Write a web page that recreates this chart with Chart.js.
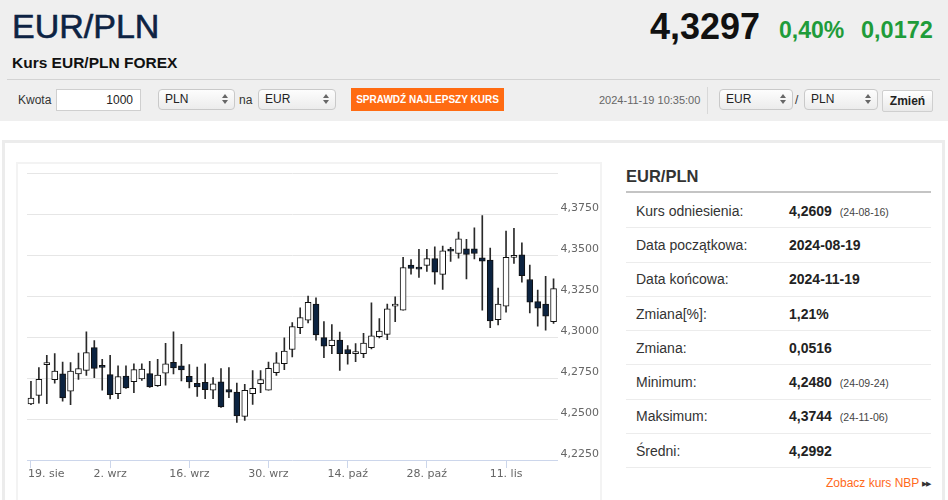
<!DOCTYPE html>
<html lang="pl">
<head>
<meta charset="utf-8">
<title>Kurs EUR/PLN FOREX</title>
<script src="https://cdn.jsdelivr.net/npm/chart.js@4.4.1/dist/chart.umd.min.js"></script>
<style>
  body { margin: 0; width: 948px; height: 500px; overflow: hidden; background: #fff;
         font-family: "Liberation Sans", Arial, sans-serif; color: #333; position: relative; }
  .a { position: absolute; white-space: nowrap; line-height: 1; }
  #top { left: 0; top: 0; width: 948px; height: 121px; background: #efefef; }
  .sel { position: absolute; top: 89px; height: 19px; border: 1px solid #c9c9c9; border-radius: 4px;
         background: linear-gradient(#fdfdfd, #ececec); font-size: 12px; line-height: 19px;
         padding-left: 6px; box-sizing: content-box; color: #222; }
  .sel i { position: absolute; right: 6px; top: 4px; width: 0; height: 0;
           border-left: 3px solid transparent; border-right: 3px solid transparent; border-bottom: 4px solid #666; }
  .sel b { position: absolute; right: 6px; top: 10px; width: 0; height: 0;
           border-left: 3px solid transparent; border-right: 3px solid transparent; border-top: 4px solid #666; }
  #outer { left: 2px; top: 140px; width: 937px; height: 400px; border: 3px solid #ececec; }
  #inner { left: 16px; top: 162px; width: 582px; height: 400px; border: 2px solid #f3f3f3; }
  #rows { position: absolute; left: 626px; top: 194px; width: 305px; }
  .row { height: 33.3px; border-bottom: 1px solid #ececec; display: flex; align-items: center;
         font-size: 14px; line-height: 1; position: relative; }
  .row .l { position: absolute; left: 10px; color: #333; }
  .row .v { position: absolute; left: 163px; font-weight: bold; color: #222; }
  .row .v small { font-weight: normal; font-size: 10.5px; color: #444; margin-left: 8px; }
</style>
</head>
<body>
<div class="a" id="top"></div>
<div class="a" style="left:12px;top:9px;font-size:34px;color:#0d2343;-webkit-text-stroke:0.6px #0d2343;">EUR/PLN</div>
<div class="a" style="left:12px;top:55px;font-size:15.5px;font-weight:bold;color:#111;">Kurs EUR/PLN FOREX</div>
<div class="a" style="left:650px;top:8.5px;font-size:36px;font-weight:bold;color:#111;">4,3297</div>
<div class="a" style="left:779px;top:19px;font-size:23px;font-weight:bold;color:#1f9c3a;">0,40%</div>
<div class="a" style="left:861px;top:19px;font-size:23.5px;font-weight:bold;color:#1f9c3a;">0,0172</div>
<div class="a" style="left:7px;top:79px;width:933px;height:1px;background:#d3d3d3;"></div>

<div class="a" style="left:18px;top:94px;font-size:12px;color:#333;">Kwota</div>
<div class="a" style="left:56px;top:89px;width:76px;height:20px;border:1px solid #cfcfcf;background:#fff;font-size:12px;line-height:20px;text-align:right;padding-right:7px;color:#222;">1000</div>
<div class="sel" style="left:158px;width:69px;">PLN<i></i><b></b></div>
<div class="a" style="left:239px;top:94px;font-size:12px;color:#333;">na</div>
<div class="sel" style="left:258px;width:70px;">EUR<i></i><b></b></div>
<div class="a" style="left:351px;top:88px;width:153px;height:23px;background:#ff6b12;color:#fff;font-size:10px;font-weight:bold;line-height:23px;text-align:center;">SPRAWDŹ NAJLEPSZY KURS</div>
<div class="a" style="left:599px;top:95px;font-size:11px;color:#666;">2024-11-19 10:35:00</div>
<div class="a" style="left:707px;top:87px;width:1px;height:27px;background:#d8d8d8;"></div>
<div class="sel" style="left:719px;width:66px;">EUR<i></i><b></b></div>
<div class="a" style="left:795px;top:94px;font-size:12px;color:#333;">/</div>
<div class="sel" style="left:804px;width:66px;">PLN<i></i><b></b></div>
<div class="a" style="left:882px;top:90px;width:49px;height:20px;border:1px solid #cfcfcf;border-radius:2px;background:linear-gradient(#fff,#e9e9e9);font-size:12px;font-weight:bold;line-height:20px;text-align:center;color:#222;">Zmień</div>

<div class="a" id="outer"></div>
<div class="a" id="inner"></div>
<canvas id="candles" width="584" height="329" style="position:absolute;left:18px;top:164px;"></canvas>

<div class="a" style="left:626px;top:168px;font-size:16.5px;font-weight:bold;color:#333;">EUR/PLN</div>
<div class="a" style="left:626px;top:191px;width:305px;height:2px;background:#c4c4c4;"></div>
<div id="rows">
  <div class="row"><span class="l">Kurs odniesienia:</span><span class="v">4,2609<small>(24-08-16)</small></span></div>
  <div class="row"><span class="l">Data początkowa:</span><span class="v">2024-08-19</span></div>
  <div class="row"><span class="l">Data końcowa:</span><span class="v">2024-11-19</span></div>
  <div class="row"><span class="l">Zmiana[%]:</span><span class="v">1,21%</span></div>
  <div class="row"><span class="l">Zmiana:</span><span class="v">0,0516</span></div>
  <div class="row"><span class="l">Minimum:</span><span class="v">4,2480<small>(24-09-24)</small></span></div>
  <div class="row"><span class="l">Maksimum:</span><span class="v">4,3744<small>(24-11-06)</small></span></div>
  <div class="row"><span class="l">Średni:</span><span class="v">4,2992</span></div>
</div>
<div class="a" style="left:826px;top:477px;font-size:12px;color:#ff6a1a;">Zobacz kurs NBP <span style="font-size:7px;color:#333;letter-spacing:-1px;vertical-align:1px;">▶▶</span></div>

<script>
const dates = [
  '2024-08-19','2024-08-20','2024-08-21','2024-08-22','2024-08-23',
  '2024-08-26','2024-08-27','2024-08-28','2024-08-29','2024-08-30',
  '2024-09-02','2024-09-03','2024-09-04','2024-09-05','2024-09-06',
  '2024-09-09','2024-09-10','2024-09-11','2024-09-12','2024-09-13',
  '2024-09-16','2024-09-17','2024-09-18','2024-09-19','2024-09-20',
  '2024-09-23','2024-09-24','2024-09-25','2024-09-26','2024-09-27',
  '2024-09-30','2024-10-01','2024-10-02','2024-10-03','2024-10-04',
  '2024-10-07','2024-10-08','2024-10-09','2024-10-10','2024-10-11',
  '2024-10-14','2024-10-15','2024-10-16','2024-10-17','2024-10-18',
  '2024-10-21','2024-10-22','2024-10-23','2024-10-24','2024-10-25',
  '2024-10-28','2024-10-29','2024-10-30','2024-10-31','2024-11-01',
  '2024-11-04','2024-11-05','2024-11-06','2024-11-07','2024-11-08',
  '2024-11-11','2024-11-12','2024-11-13','2024-11-14','2024-11-15',
  '2024-11-18','2024-11-19'
];
const opens = [
  4.2592, 4.2645, 4.2833, 4.2741, 4.2776, 4.2670, 4.2776, 4.2798, 4.2937, 4.2818,
  4.2772, 4.2655, 4.2763, 4.2729, 4.2745, 4.2778, 4.2704, 4.2780, 4.2847, 4.2825,
  4.2761, 4.2718, 4.2724, 4.2676, 4.2727, 4.2680, 4.2665, 4.2517, 4.2655, 4.2716,
  4.2676, 4.2784, 4.2839, 4.2925, 4.3059, 4.3104, 4.3202, 4.2998, 4.2949, 4.2982,
  4.2925, 4.2900, 4.2900, 4.2937, 4.3004, 4.3018, 4.3190, 4.3165, 4.3441, 4.3418,
  4.3439, 4.3480, 4.3384, 4.3539, 4.3512, 4.3541, 4.3541, 4.3486, 4.3471, 4.3108,
  4.3190, 4.3488, 4.3504, 4.3353, 4.3218, 4.3202, 4.3096
];
const highs = [
  4.2731, 4.2814, 4.2890, 4.2900, 4.2849, 4.2845, 4.2904, 4.3033, 4.2980, 4.2865,
  4.2890, 4.2825, 4.2825, 4.2837, 4.2837, 4.2853, 4.2865, 4.2963, 4.3033, 4.2957,
  4.2833, 4.2818, 4.2837, 4.2753, 4.2808, 4.2814, 4.2720, 4.2712, 4.2796, 4.2796,
  4.2849, 4.2906, 4.2996, 4.3090, 4.3180, 4.3251, 4.3241, 4.3096, 4.3078, 4.3031,
  4.2949, 4.2961, 4.3024, 4.3210, 4.3114, 4.3202, 4.3247, 4.3488, 4.3475, 4.3537,
  4.3537, 4.3553, 4.3557, 4.3549, 4.3643, 4.3598, 4.3669, 4.3744, 4.3545, 4.3300,
  4.3649, 4.3665, 4.3577, 4.3441, 4.3288, 4.3373, 4.3357
];
const lows = [
  4.2588, 4.2598, 4.2594, 4.2720, 4.2610, 4.2588, 4.2743, 4.2767, 4.2753, 4.2676,
  4.2623, 4.2625, 4.2688, 4.2661, 4.2737, 4.2694, 4.2700, 4.2708, 4.2776, 4.2733,
  4.2690, 4.2639, 4.2625, 4.2625, 4.2572, 4.2631, 4.2480, 4.2492, 4.2590, 4.2661,
  4.2676, 4.2767, 4.2802, 4.2880, 4.3022, 4.3088, 4.2982, 4.2876, 4.2900, 4.2798,
  4.2835, 4.2851, 4.2876, 4.2929, 4.2996, 4.2986, 4.3096, 4.3165, 4.3386, 4.3365,
  4.3402, 4.3324, 4.3292, 4.3463, 4.3483, 4.3357, 4.3479, 4.3165, 4.3059, 4.3075,
  4.3153, 4.3451, 4.3337, 4.3149, 4.3067, 4.3043, 4.3084
];
const closes = [
  4.2629, 4.2743, 4.2835, 4.2794, 4.2629, 4.2794, 4.2808, 4.2906, 4.2810, 4.2816,
  4.2649, 4.2759, 4.2690, 4.2802, 4.2806, 4.2696, 4.2769, 4.2837, 4.2812, 4.2800,
  4.2727, 4.2696, 4.2680, 4.2716, 4.2574, 4.2665, 4.2519, 4.2676, 4.2688, 4.2741,
  4.2810, 4.2843, 4.2916, 4.3065, 4.3120, 4.3214, 4.3014, 4.2945, 4.2982, 4.2900,
  4.2900, 4.2902, 4.2965, 4.3008, 4.3037, 4.3173, 4.3192, 4.3426, 4.3420, 4.3416,
  4.3480, 4.3398, 4.3528, 4.3526, 4.3602, 4.3506, 4.3512, 4.3465, 4.3100, 4.3202,
  4.3488, 4.3490, 4.3377, 4.3214, 4.3177, 4.3129, 4.3297
];
const axisDates = ['2024-08-19','2024-09-02','2024-09-16','2024-09-30','2024-10-14','2024-10-28','2024-11-11'];
const axisLabels = ['19. sie','2. wrz','16. wrz','30. wrz','14. paź','28. paź','11. lis'];

const UP = '#ffffff';
const DOWN = '#0c2340';

// date labels under the axis, first one pinned to the plot edge like the original
const dateLabels = {
  id: 'dateLabels',
  afterDraw(chart) {
    const { ctx, chartArea, scales: { x } } = chart;
    ctx.save();
    ctx.font = '11px "DejaVu Sans"';
    ctx.fillStyle = '#666';
    ctx.textBaseline = 'middle';
    axisDates.forEach((d, i) => {
      const px = x.getPixelForValue(dates.indexOf(d));
      ctx.textAlign = i === 0 ? 'left' : 'center';
      ctx.fillText(axisLabels[i], i === 0 ? chartArea.left + 1 : px, chartArea.bottom + 14);
    });
    ctx.restore();
  }
};

new Chart(document.getElementById('candles').getContext('2d'), {
  type: 'bar',
  data: {
    labels: dates,
    datasets: [{
      label: 'body',
      data: opens.map((o, i) => [o, closes[i]]),
      backgroundColor: closes.map((c, i) => c >= opens[i] ? UP : DOWN),
      borderColor: '#111',
      borderWidth: 1,
      borderSkipped: false,
      barThickness: 6,
      minBarLength: 2,
      grouped: false,
      order: 1
    }, {
      label: 'wick',
      data: lows.map((l, i) => [l, highs[i]]),
      backgroundColor: '#2a2a2a',
      barThickness: 1,
      grouped: false,
      order: 2
    }]
  },
  options: {
    responsive: false,
    animation: false,
    layout: { padding: { left: 9, top: 8, right: 0, bottom: 25 } },
    plugins: {
      legend: { display: false },
      tooltip: { enabled: false }
    },
    scales: {
      x: {
        ticks: { display: false, autoSkip: false },
        grid: {
          drawOnChartArea: false,
          offset: false,
          tickLength: 8,
          color: c => axisDates.includes(dates[c.index]) ? '#ccd6eb' : 'rgba(0,0,0,0)'
        },
        border: { color: '#ccd6eb' }
      },
      y: {
        position: 'right',
        min: 4.225,
        max: 4.4,
        border: { display: false },
        grid: {
          drawTicks: false,
          color: c => c.tick.value < 4.23 ? 'rgba(0,0,0,0)' : '#e6e6e6'
        },
        ticks: {
          stepSize: 0.025,
          padding: 3,
          labelOffset: -6,
          color: '#666',
          font: { family: 'DejaVu Sans', size: 11 },
          callback: v => v > 4.39 ? '' : v.toFixed(4).replace('.', ',')
        }
      }
    }
  },
  plugins: [dateLabels]
});
</script>
</body>
</html>
